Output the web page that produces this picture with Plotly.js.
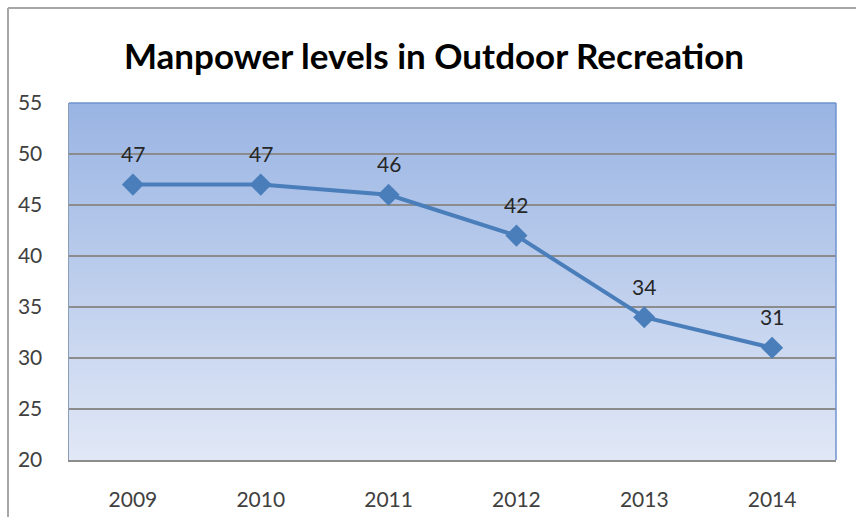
<!DOCTYPE html>
<html>
<head>
<meta charset="utf-8">
<script src="https://cdn.plot.ly/plotly-3.0.1.min.js"></script>
<style>html,body{margin:0;padding:0;background:#fff;}#chart{width:856px;height:517px;}</style>
</head>
<body>
<div id="chart"></div>
<script>
const years = ['2009', '2010', '2011', '2012', '2013', '2014'];
const manpower = [47, 47, 46, 42, 34, 31];
const yTicks = [20, 25, 30, 35, 40, 45, 50, 55];

const W = 856, H = 517, L = 69, R = 836, T = 103, B = 460;
const px = x => (x - L) / (R - L);
const py = y => (B - y) / (B - T);

const grad = 'data:image/svg+xml;utf8,' + encodeURIComponent(
  '<svg xmlns="http://www.w3.org/2000/svg" width="100" height="100" preserveAspectRatio="none">' +
  '<defs><linearGradient id="g" x1="0" y1="0" x2="0" y2="1">' +
  '<stop offset="0" stop-color="#99b4e3"/><stop offset="1" stop-color="#e1e8f6"/>' +
  '</linearGradient></defs><rect width="100" height="100" fill="url(#g)"/></svg>');

const trace = {
  x: years, y: manpower, type: 'scatter', mode: 'lines+markers',
  line: {color: '#4a7ebb', width: 4},
  marker: {symbol: 'diamond', size: 17, color: '#4a7ebb'},
  hoverinfo: 'skip', showlegend: false
};

// category index i on the x axis (numeric-looking category names would be read as indices)
const annotations = years.map((yr, i) => ({
  x: i, y: manpower[i], xref: 'x', yref: 'y', text: String(manpower[i]),
  showarrow: false, yshift: 31,
  font: {family: 'Lato, sans-serif', size: 21, color: '#262626'}
}));

const layout = {
  width: W, height: H,
  margin: {l: L, r: W - R, t: T, b: H - B, pad: 0},
  paper_bgcolor: '#ffffff',
  plot_bgcolor: 'rgba(0,0,0,0)',
  title: {
    text: '<b>Manpower levels in Outdoor Recreation</b>',
    font: {family: 'Lato, sans-serif', size: 35, color: '#000000'},
    xref: 'paper', x: px(434), xanchor: 'center',
    yref: 'container', y: 1 - 57 / H, yanchor: 'middle'
  },
  xaxis: {
    type: 'category', range: [-0.5, 5.5], showgrid: false, zeroline: false,
    showline: true, linecolor: '#8c8c8c', linewidth: 1.5,
    ticks: '', ticklabelstandoff: 20,
    tickfont: {family: 'Lato, sans-serif', size: 21, color: '#404040'}
  },
  yaxis: {
    range: [20, 55], tickvals: yTicks, ticktext: yTicks.map(String),
    showgrid: true, gridcolor: '#8c8c8c', gridwidth: 1.5, zeroline: false,
    showline: true, linecolor: '#8c9db8', linewidth: 1.5,
    ticks: '', ticklabelstandoff: 21,
    tickfont: {family: 'Lato, sans-serif', size: 21, color: '#404040'}
  },
  images: [{
    source: grad, xref: 'paper', yref: 'paper', x: 0, y: 1, sizex: 1, sizey: 1,
    xanchor: 'left', yanchor: 'top', sizing: 'stretch', layer: 'below'
  }],
  shapes: [
    {type: 'line', xref: 'paper', yref: 'paper', x0: 0, x1: 1, y0: 1, y1: 1, line: {color: '#6f93cf', width: 1.5}},
    {type: 'line', xref: 'paper', yref: 'paper', x0: 1, x1: 1, y0: 0, y1: 1, line: {color: '#6f93cf', width: 1.5}},
    {type: 'line', xref: 'paper', yref: 'paper', x0: px(8), x1: px(860), y0: py(8), y1: py(8), line: {color: '#a6a6a6', width: 2}},
    {type: 'line', xref: 'paper', yref: 'paper', x0: px(8), x1: px(8), y0: py(8), y1: py(520), line: {color: '#a6a6a6', width: 2}}
  ],
  annotations: annotations
};

Plotly.newPlot('chart', [trace], layout, {displayModeBar: false, staticPlot: true});
</script>
</body>
</html>
